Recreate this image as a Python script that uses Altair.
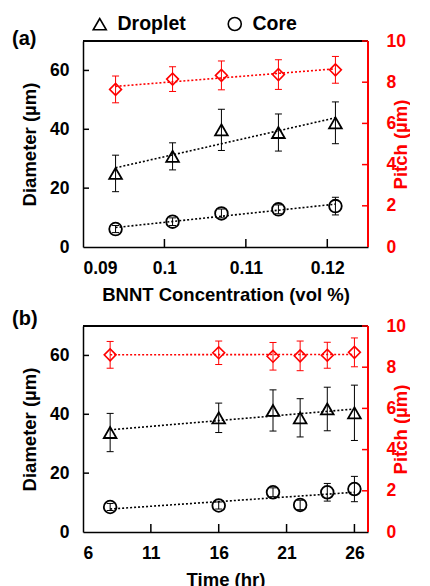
import altair as alt
import pandas as pd

# ---------- data ----------
conc = [0.094, 0.101, 0.107, 0.114, 0.121]
drop_a = [25.0, 30.8, 39.8, 38.9, 42.2]
drop_a_err = [6.2, 4.6, 7.0, 6.3, 7.1]
core_a = [6.1, 8.6, 11.4, 12.8, 13.9]
core_a_err = [1.2, 1.3, 1.5, 1.5, 3.0]
pitch_a = [7.65, 8.15, 8.33, 8.37, 8.6]
pitch_a_err = [0.65, 0.6, 0.7, 0.72, 0.65]

time_hr = [8, 16, 20, 22, 24, 26]
drop_b = [33.8, 38.8, 41.3, 38.8, 41.8, 40.5]
drop_b_err = [6.5, 5.0, 7.0, 6.5, 7.4, 9.4]
core_b = [8.5, 9.0, 13.5, 9.2, 13.5, 14.6]
core_b_err = [1.2, 1.2, 1.5, 1.6, 3.0, 4.3]
pitch_b = [8.6, 8.7, 8.53, 8.55, 8.58, 8.72]
pitch_b_err = [0.65, 0.57, 0.67, 0.72, 0.63, 0.7]

series_names = ["Droplet", "Core"]
series_shapes = ["triangle-up", "circle"]
left_ticks = [0, 20, 40, 60]
right_ticks = [0, 2, 4, 6, 8, 10]
xticks_a = [0.09, 0.1, 0.11, 0.12]
xticks_b = [6, 11, 16, 21, 26]

FONT = "Liberation Sans"
RED = "#ff0000"
W, H = 285, 206
CAP = "M-1,0L1,0"
LABEL_FS = 17.5
TITLE_FS = 18.5


def panel(xs, xdomain, xticks, xtitle, label, label_dy, drop, drop_err, core, core_err,
          pitch, pitch_err, show_legend):
    rows = []
    for name, vals, errs in ((series_names[0], drop, drop_err),
                             (series_names[1], core, core_err)):
        for x, v, e in zip(xs, vals, errs):
            rows.append({"x": x, "v": v, "lo": v - e, "hi": v + e, "series": name})
    dd = pd.DataFrame(rows)
    dcaps = pd.DataFrame([{"x": r["x"], "v": r[k]} for r in rows for k in ("lo", "hi")])
    pp = pd.DataFrame({"x": xs, "v": pitch,
                       "lo": [p - e for p, e in zip(pitch, pitch_err)],
                       "hi": [p + e for p, e in zip(pitch, pitch_err)]})
    pcaps = pd.DataFrame([{"x": x, "v": v} for x, v in zip(xs, pp["lo"])] +
                         [{"x": x, "v": v} for x, v in zip(xs, pp["hi"])])
    lt = pd.DataFrame({"v": left_ticks[1:]})
    rt = pd.DataFrame({"v": right_ticks[1:]})
    xt = pd.DataFrame({"x": xticks[1:]})

    xscale = alt.Scale(domain=xdomain, nice=False, zero=False)
    X = alt.X("x:Q", scale=xscale,
              axis=alt.Axis(values=xticks, format="~g", title=xtitle, ticks=False,
                            tickSize=0, labelPadding=12, titlePadding=9, grid=False,
                            domainColor="black", domainWidth=1.5,
                            labelFont=FONT, labelFontSize=LABEL_FS, labelFontWeight="bold",
                            labelColor="black", titleFont=FONT, titleFontSize=TITLE_FS,
                            titleFontWeight="bold", titleColor="black"))
    lscale = alt.Scale(domain=[0, 70], nice=False)
    rscale = alt.Scale(domain=[0, 10], nice=False)
    YL = alt.Y("v:Q", scale=lscale,
               axis=alt.Axis(orient="left", values=left_ticks, title="Diameter (µm)",
                             ticks=False, tickSize=0, labelPadding=14, labelAlign="right",
                             titlePadding=10, grid=False,
                             domainColor="black", domainWidth=1.5,
                             labelFont=FONT, labelFontSize=LABEL_FS, labelFontWeight="bold",
                             labelColor="black", titleFont=FONT, titleFontSize=TITLE_FS,
                             titleFontWeight="bold", titleColor="black"))
    YR = alt.Y("v:Q", scale=rscale,
               axis=alt.Axis(orient="right", values=right_ticks, title="Pitch (µm)",
                             ticks=False, tickSize=0, labelPadding=0, labelAlign="left",
                             offset=18, domain=False,
                             titlePadding=5, grid=False, titleAngle=270,
                             labelFont=FONT, labelFontSize=LABEL_FS, labelFontWeight="bold",
                             labelColor=RED, titleFont=FONT, titleFontSize=TITLE_FS,
                             titleFontWeight="bold", titleColor=RED))

    d_err = alt.Chart(dd).mark_rule(color="black", strokeWidth=1).encode(
        x=X, y=YL, y2="hi:Q").transform_calculate(v="datum.lo")
    d_caps = alt.Chart(dcaps).mark_point(shape=CAP, size=49, color="black",
                                         strokeWidth=1, opacity=1).encode(x=X, y=YL)
    d_trend = alt.Chart(dd).transform_regression(
        "x", "v", groupby=["series"]).mark_line(
        color="black", strokeDash=[2, 2], strokeWidth=1.6).encode(
        x=X, y=YL, detail="series:N")
    legend = alt.Legend(orient="none", legendX=7, legendY=-27, direction="horizontal",
                        title=None, labelFont=FONT, labelFontSize=19.5,
                        labelFontWeight="bold", labelColor="black",
                        symbolSize=170, symbolStrokeWidth=1.6,
                        symbolStrokeColor="black", symbolFillColor="transparent",
                        columnPadding=39, labelOffset=8) if show_legend else None
    d_pts = alt.Chart(dd).mark_point(filled=False, color="black", strokeWidth=1.8,
                                     size=160, opacity=1).encode(
        x=X, y=YL,
        shape=alt.Shape("series:N", scale=alt.Scale(domain=series_names,
                                                    range=series_shapes),
                        legend=legend))
    l_ticks = alt.Chart(lt).mark_rule(color="black", strokeWidth=1.5).encode(
        y=YL, x=alt.value(0), x2=alt.value(6))
    x_ticks = alt.Chart(xt).mark_rule(color="black", strokeWidth=1.5).encode(
        x=X, y=alt.value(H), y2=alt.value(H - 8))
    top_line = alt.Chart(xt).mark_rule(color="black", strokeWidth=1.5).encode(
        x=alt.value(0), x2=alt.value(W), y=alt.value(0))

    left = alt.layer(top_line, l_ticks, x_ticks, d_err, d_caps, d_trend, d_pts)

    p_err = alt.Chart(pp).mark_rule(color=RED, strokeWidth=1).encode(
        x=X, y=YR, y2="hi:Q").transform_calculate(v="datum.lo")
    p_caps = alt.Chart(pcaps).mark_point(shape=CAP, size=49, color=RED,
                                         strokeWidth=1, opacity=1).encode(x=X, y=YR)
    p_trend = alt.Chart(pp).transform_regression("x", "v").mark_line(
        color=RED, strokeDash=[2, 2], strokeWidth=1.6).encode(x=X, y=YR)
    p_pts = alt.Chart(pp).mark_point(shape="diamond", filled=False, color=RED,
                                     strokeWidth=1.6, size=140, opacity=1).encode(
        x=X, y=YR)
    r_ticks = alt.Chart(rt).mark_rule(color=RED, strokeWidth=1.5).encode(
        y=YR, x=alt.value(W), x2=alt.value(W - 6))
    r_line = alt.Chart(rt).mark_rule(color=RED, strokeWidth=1.5).encode(
        x=alt.value(W), y=alt.value(0), y2=alt.value(H))
    right = alt.layer(r_line, r_ticks, p_err, p_caps, p_trend, p_pts)

    return alt.layer(left, right).resolve_scale(y="independent").properties(
        width=W, height=H,
        title=alt.TitleParams(label, anchor="start", frame="group", dx=-71,
                              dy=label_dy, offset=2, font=FONT, fontSize=20,
                              fontWeight="bold", color="black"))


top = panel(conc, [0.09, 0.125], xticks_a, "BNNT Concentration (vol %)", "(a)", 37,
            drop_a, drop_a_err, core_a, core_a_err, pitch_a, pitch_a_err, True)
bottom = panel(time_hr, [6, 27], xticks_b, "Time (hr)", "(b)", 14,
               drop_b, drop_b_err, core_b, core_b_err, pitch_b, pitch_b_err, False)

chart = alt.vconcat(top, bottom, spacing=5).resolve_scale(
    shape="independent").resolve_legend(shape="independent").configure_view(
    stroke=None).properties(background="white",
                            padding={"left": 4, "top": 6, "right": 0, "bottom": 2})

chart.save("out.html", embed_options={"renderer": "svg", "actions": False})
